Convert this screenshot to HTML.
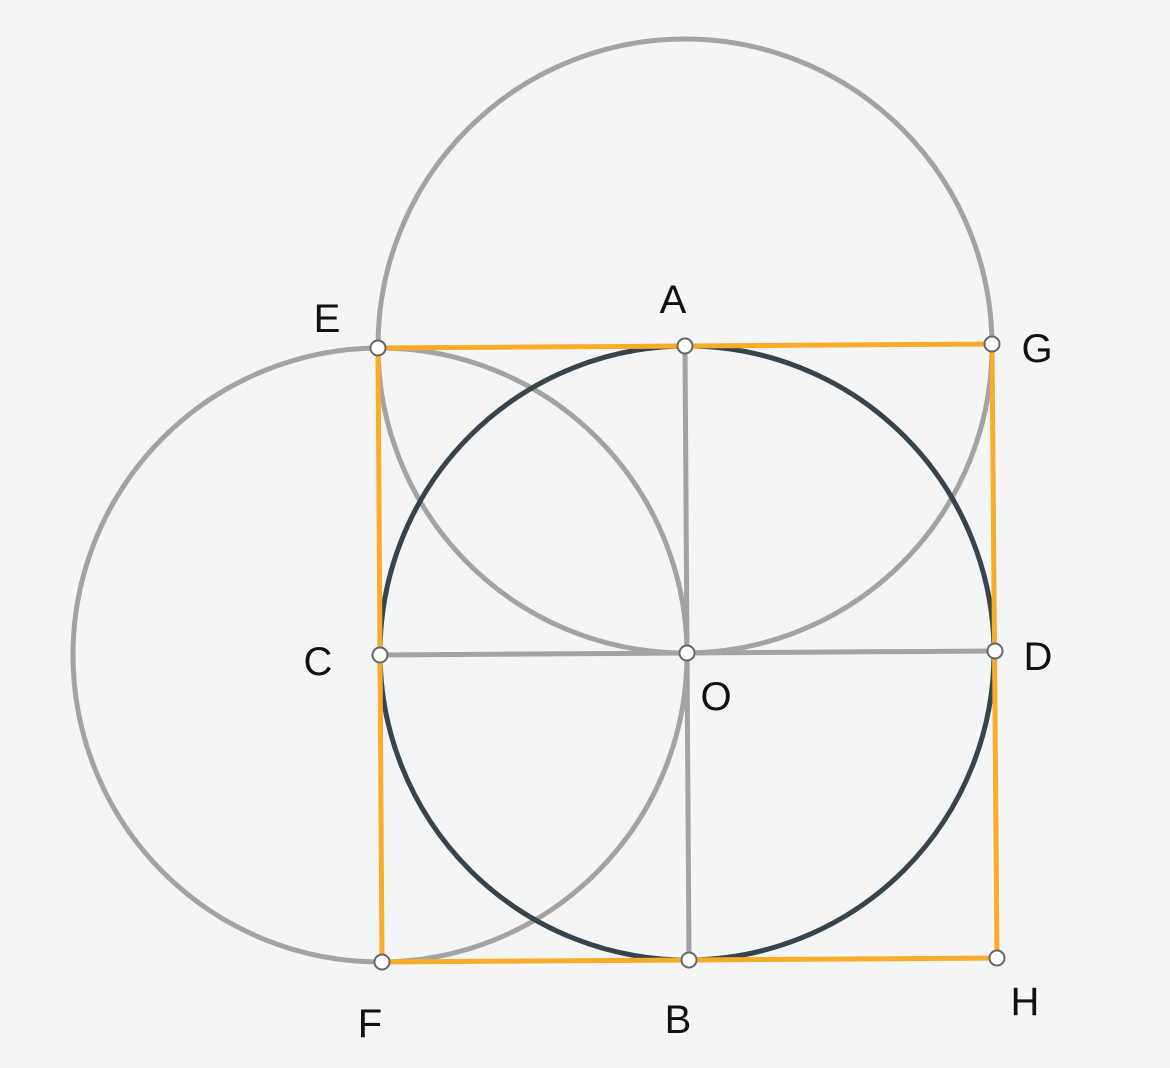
<!DOCTYPE html>
<html>
<head>
<meta charset="utf-8">
<style>
  html,body{margin:0;padding:0;background:#f3f5f7;}
  svg{display:block;}
  text{font-family:"Liberation Sans",sans-serif;font-size:40px;fill:#111;}
</style>
</head>
<body>
<svg id="fig" width="1170" height="1068" viewBox="0 0 1170 1068" xmlns="http://www.w3.org/2000/svg">
  <rect width="1170" height="1068" fill="#f3f5f7"/>
</svg>
<script>
const pointNames = ["E","A","G","C","O","D","F","B","H"];
const pointX = [378,685,992,380,687,995,382,689,997];
const pointY = [348,346,344,655,653,651,962,960,958];
const labelX = [327,673,1037,318,716,1038,370,678,1025];
const labelY = [332,313,362,675,710,670,1037,1033,1015];
const grayCircleCenters = ["A","C"];
const darkCircleCenters = ["O"];
const radius = 307;
const graySegments = [["A","B"],["C","D"]];
const orangePolygon = ["E","G","H","F"];

const NS = "http://www.w3.org/2000/svg";
const svg = document.getElementById("fig");
function px(n){return pointX[pointNames.indexOf(n)];}
function py(n){return pointY[pointNames.indexOf(n)];}
function mk(tag, attrs){const e=document.createElementNS(NS,tag);for(const k in attrs)e.setAttribute(k,attrs[k]);svg.appendChild(e);return e;}

grayCircleCenters.forEach(c=>{
  const el=mk("circle",{cx:px(c),cy:py(c),r:radius,fill:"none",stroke:"#a3a3a3","stroke-width":5});
  
  
});
darkCircleCenters.forEach(c=>{
  const el=mk("circle",{cx:px(c),cy:py(c),r:radius,fill:"none",stroke:"#37444c","stroke-width":5});
  
  
});
graySegments.forEach(s=>{
  const el=mk("line",{x1:px(s[0]),y1:py(s[0]),x2:px(s[1]),y2:py(s[1]),stroke:"#a3a3a3","stroke-width":5});
  
  
});
const poly=mk("polygon",{points:orangePolygon.map(n=>px(n)+","+py(n)).join(" "),fill:"none",stroke:"#fbab2a","stroke-width":5});



pointNames.forEach((n,i)=>{
  const c=mk("circle",{cx:pointX[i],cy:pointY[i],r:7.5,fill:"#fff",stroke:"#666","stroke-width":2});
  
  
  const t=mk("text",{x:labelX[i],y:labelY[i],"text-anchor":"middle"});
  t.textContent=n;
  
  
});
</script>
</body>
</html>
